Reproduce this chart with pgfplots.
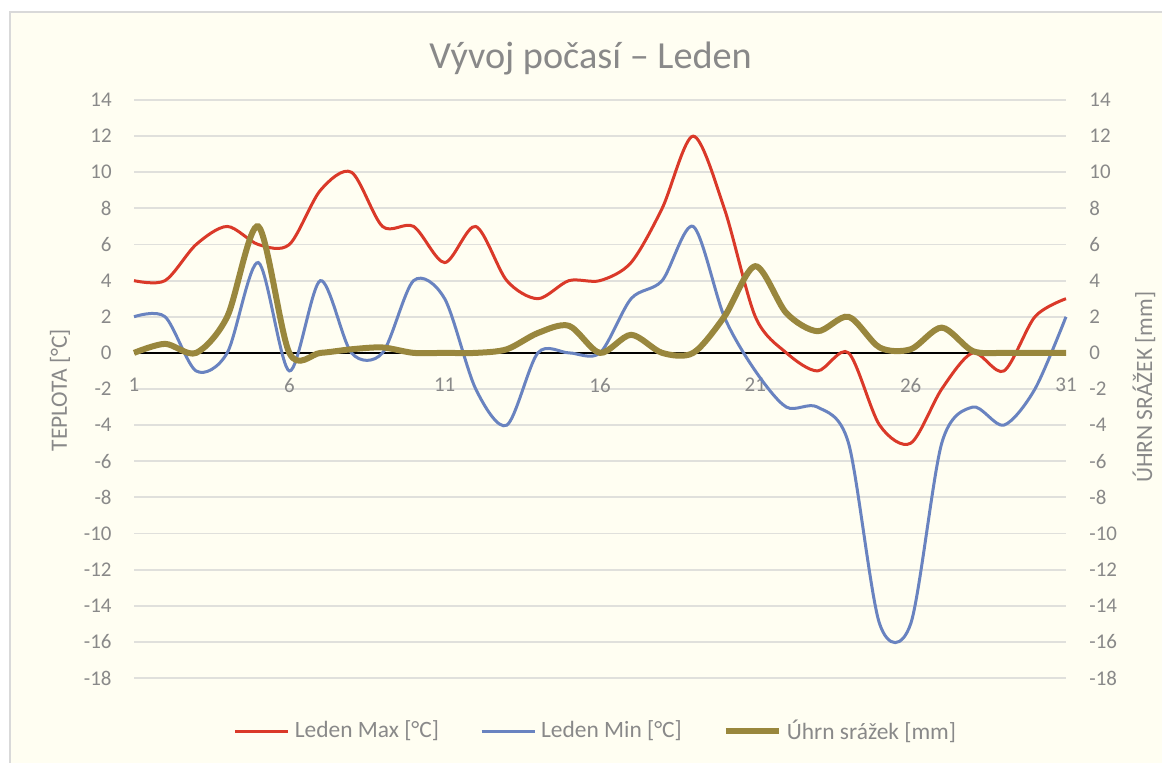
\documentclass[border=0pt]{standalone}
\usepackage{fontspec}
\setmainfont{Carlito}
\usepackage{pgfplots}
\usepackage{pgfplotstable}
\pgfplotsset{compat=1.18}
\definecolor{bgc}{RGB}{255,254,242}
\definecolor{brd}{RGB}{217,217,217}
\definecolor{txt}{RGB}{137,137,137}
\definecolor{grd}{RGB}{224,224,220}
\definecolor{cmax}{RGB}{218,57,41}
\definecolor{cmin}{RGB}{105,131,192}
\definecolor{cpr}{RGB}{153,135,61}
\pgfplotstableread{
d  max  min  pr
1   4    2   0
2   4    2   0.5
3   6   -1   0
4   7    0   2
5   6    5   7
6   6   -1   0
7   9    4   0
8  10    0   0.2
9   7    0   0.3
10  7    4   0
11  5    3   0
12  7   -2   0
13  4   -4   0.2
14  3    0   1.1
15  4    0   1.5
16  4    0   0
17  5    3   1
18  8    4   0
19 12    7   0
20  8    2   2
21  2   -1   4.8
22  0   -3   2.2
23 -1   -3   1.2
24  0   -5   2
25 -4  -15   0.3
26 -5  -15   0.2
27 -2   -5   1.4
28  0   -3   0.1
29 -1   -4   0
30  2   -2   0
31  3    2   0
}\data
\newcommand\tickfont{\fontsize{10.5}{12}\selectfont}
\newcommand\labfont{\fontsize{11.75}{14}\selectfont}
\begin{document}
\begin{tikzpicture}
\path[use as bounding box, fill=white] (0bp,0bp) rectangle (581bp,-381.5bp);
\path[fill=bgc, draw=brd, line width=0.75bp] (5bp,-6bp) rectangle (590bp,-390bp);
\begin{axis}[
  at={(67bp,-339bp)}, anchor=south west, scale only axis,
  width=466bp, height=289bp,
  xmin=1, xmax=31, ymin=-18, ymax=14,
  axis line style={draw=none},
  xtick={1,6,...,31}, ytick={-18,-16,...,14},
  major tick length=0pt,
  ymajorgrids, grid style={color=grd, line width=0.9bp},
  /pgf/number format/assume math mode=true,
  xticklabel style={font=\tickfont, text=txt, inner sep=0pt, anchor=north, yshift=150.25bp},
  yticklabel style={font=\tickfont, text=txt, inner sep=0pt, anchor=east, xshift=-11bp},
  clip=false,
]
\addplot[black, line width=0.9bp, forget plot] coordinates {(1,0) (31,0)};
\addplot[cmax, line width=1.5bp, smooth, tension=0.5] table[x=d,y=max]{\data};
\addplot[cmin, line width=1.5bp, smooth, tension=0.5] table[x=d,y=min]{\data};
\node[font=\fontsize{19.2}{23}\selectfont, text=txt] at (axis description cs:0.490,1.071) {Vývoj počasí – Leden};
\node[font=\labfont, text=txt, rotate=90] at (axis description cs:-0.0794,0.498) {TEPLOTA [°C]};
\node[font=\labfont, text=txt, rotate=90] at (axis description cs:1.0837,0.503) {ÚHRN SRÁŽEK [mm]};
\end{axis}
\begin{axis}[
  at={(67bp,-339bp)}, anchor=south west, scale only axis,
  width=466bp, height=289bp,
  xmin=1, xmax=31, ymin=-18, ymax=14,
  axis line style={draw=none},
  xtick=\empty, ytick={-18,-16,...,14},
  major tick length=0pt,
  yticklabel pos=right,
  /pgf/number format/assume math mode=true,
  yticklabel style={font=\tickfont, text=txt, inner sep=0pt, anchor=west, xshift=11.5bp},
  clip=false,
  legend columns=3,
  legend image code/.code={\draw[#1, line cap=butt] (0bp,0bp) -- (26.5bp,0bp); \path (29bp,0bp);},
  legend style={at={(axis description cs:0.4946,-0.0917)}, anchor=center, draw=none, fill=none,
    font=\labfont, text=txt, inner sep=0pt, nodes={inner sep=0pt},
    /tikz/every even column/.append style={column sep=20.5bp}},
]
\addlegendimage{cmax, line width=1.5bp}
\addlegendentry{Leden Max [°C]}
\addlegendimage{cmin, line width=1.5bp}
\addlegendentry{Leden Min [°C]}
\addplot[cpr, line width=3bp, smooth, tension=0.5] table[x=d,y=pr]{\data};
\addlegendentry{Úhrn srážek [mm]}
\end{axis}
\end{tikzpicture}
\end{document}
